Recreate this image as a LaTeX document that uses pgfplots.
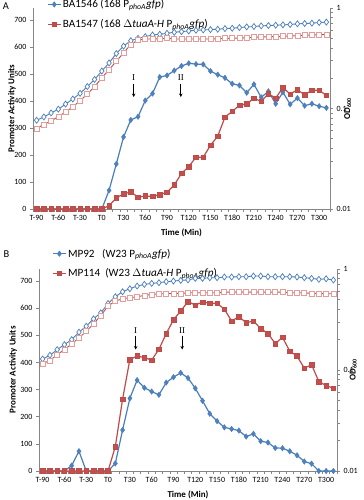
\documentclass[border=0pt]{standalone}
\usepackage{pgfplots}
\usepackage{pgfplotstable}
\pgfplotsset{compat=1.18}
\usetikzlibrary{arrows.meta}
\usepackage{fontspec}
\setmainfont{Carlito}
\newfontfamily\romanfont{Liberation Serif}

\definecolor{xblue}{HTML}{4A7EBB}
\definecolor{xbluef}{HTML}{4F81BD}
\definecolor{xred}{HTML}{BE4B48}
\definecolor{xredf}{HTML}{C0504D}
\definecolor{xpink}{HTML}{E29C9A}
\definecolor{axgray}{HTML}{868686}

\pgfplotstableread{
t b r ob or
-90 0 0 0.0763 0.0634
-80 0 0 0.0824 0.0695
-70 0 0 0.0904 0.0751
-60 0 0 0.0985 0.0831
-50 0 0 0.1106 0.0926
-40 0 0 0.1242 0.1039
-30 0 0 0.1416 0.1194
-20 0 0 0.1652 0.1394
-10 0 0 0.1944 0.1652
0 0 0 0.2358 0.2019
10 69 12 0.2838 0.2432
20 167 41 0.3523 0.2950
30 267 56 0.4176 0.3578
40 330 63 0.4726 0.4342
50 342 44 0.4989 0.4800
60 402 48 0.5186 0.4912
70 428 47 0.5389 0.4912
80 489 53 0.5475 0.4951
90 495 62 0.5600 0.4989
100 513 89 0.5733 0.4912
110 530 132 0.5823 0.4912
120 540 157 0.5913 0.4912
130 537 192 0.6005 0.4912
140 536 192 0.6050 0.4912
150 511 236 0.6098 0.4912
160 498 270 0.6146 0.4951
170 486 340 0.6241 0.4989
180 464 362 0.6289 0.4989
190 458 384 0.6387 0.5028
200 431 390 0.6486 0.5067
210 462 410 0.6537 0.5106
220 414 399 0.6639 0.5146
230 436 427 0.6690 0.5186
240 390 411 0.6743 0.5186
250 433 450 0.6795 0.5226
260 388 426 0.6848 0.5266
270 411 442 0.6954 0.5307
280 383 423 0.7008 0.5348
290 390 440 0.7063 0.5390
300 381 440 0.7172 0.5431
310 375 421 0.7229 0.5431
}\dataA

\pgfplotstableread{
t b r ob or
-90 0 0 0.1286 0.1156
-80 0 0 0.1399 0.1238
-70 0 0 0.1592 0.1420
-60 0 0 0.1785 0.1592
-50 20 0 0.2001 0.1814
-40 73 0 0.2368 0.2079
-30 0 0 0.2716 0.2422
-20 0 0 0.3211 0.2863
-10 0 0 0.3684 0.3465
0 0 0 0.4560 0.4290
10 28 90 0.5312 0.4809
20 151 265 0.5955 0.5074
30 268 411 0.6379 0.5191
40 335 424 0.6780 0.5312
50 307 418 0.7042 0.5477
60 293 409 0.7206 0.5603
70 281 449 0.7317 0.5689
80 326 506 0.7488 0.5689
90 346 558 0.7600 0.5732
100 362 590 0.7719 0.5732
110 343 625 0.7800 0.5818
120 305 612 0.8080 0.5818
130 259 623 0.8080 0.5818
140 211 619 0.8200 0.5818
150 184 618 0.8200 0.5818
160 161 597 0.8330 0.5907
170 155 553 0.8330 0.5907
180 149 569 0.8390 0.5907
190 127 547 0.8390 0.5907
200 137 553 0.8520 0.5907
210 110 525 0.8520 0.5907
220 105 507 0.8390 0.5907
230 85 470 0.8390 0.5907
240 84 493 0.8390 0.5907
250 73 442 0.8390 0.5818
260 58 424 0.8330 0.5818
270 35 379 0.8200 0.5818
280 27 392 0.8080 0.5732
290 0 330 0.7900 0.5732
300 0 315 0.8000 0.5689
310 0 305 0.7780 0.5689
}\dataB

\pgfplotsset{
  base/.style={
    scale only axis, anchor=south west, clip=false,
    xmin=-95, xmax=315,
    axis line style={axgray, line width=0.6bp},
    tick style={axgray, line width=0.6bp},
    tick align=outside, major tick length=3bp, minor tick length=3bp,
    ticklabel style={font=\fontsize{8}{9.6}\selectfont, text=black},
    /pgf/number format/assume math mode=true,
    label style={font=\fontsize{9}{10.8}\selectfont\bfseries},
  },
  leftax/.style={
    base, axis x line*=bottom, axis y line*=left,
    ymin=0, ymax=745, ytick={0,100,...,700},
    xtick={-90,-60,...,300},
    xticklabels={T-90,T-60,T-30,T0,T30,T60,T90,T120,T150,T180,T210,T240,T270,T300},
    minor xtick={-95,-85,...,315},
    major x tick style={draw=none},
    xlabel={Time (Min)},
    ylabel={Promoter Activity Units},
    legend cell align=left,
    legend style={draw=none, fill=none, font=\fontsize{11.2}{13}\selectfont,
      row sep=7bp, inner sep=0pt, nodes={inner sep=1.5bp}},
    legend image code/.code={\draw[##1, mark repeat=2, mark phase=2]
      plot coordinates {(0bp,0bp) (6.5bp,0bp) (13bp,0bp)};},
  },
  rightax/.style={
    base, axis y line*=right, axis x line=none,
    ymin=0.01, ymax=1, ytick={0.01,0.1,1},
    yticklabels={0.01,0.1,1}, minor ytick={},
    ylabel={OD\textsubscript{600}},
  },
  bluefill/.style={color=xblue, line width=1.2bp, mark=diamond*, mark size=2.7bp,
    mark options={fill=xbluef, draw=xblue, line width=0.5bp}},
  redfill/.style={color=xred, line width=1.2bp, mark=square*, mark size=2.3bp,
    mark options={fill=xredf, draw=xred, line width=0.5bp}},
  bluehollow/.style={color=xblue, line width=0.9bp, mark=diamond*, mark size=3bp,
    mark options={fill=white, draw=xblue, line width=0.7bp}},
  redhollow/.style={color=xred, line width=0.9bp, mark=square*, mark size=2.5bp,
    mark options={fill=white, draw=xpink, line width=0.7bp}},
}

\begin{document}
\begin{tikzpicture}
\useasboundingbox (0,0) rectangle (364bp,500bp);

% ---------- Panel A ----------
\begin{axis}[leftax, at={(33bp,291bp)}, width=297bp, height=201bp,
  xlabel style={at={(axis description cs:0.5,-0.119)}, anchor=center},
  ylabel style={at={(axis description cs:-0.071,0.5)}, anchor=center},
  legend style={at={(axis description cs:0.047,1.05)}, anchor=north west}]
\addplot[bluefill] table[x=t, y=b]{\dataA};
\addlegendentry{BA1546 (168 P\textsubscript{\textit{phoA}}\textit{gfp})}
\addplot[redfill] table[x=t, y=r]{\dataA};
\addlegendentry{BA1547 (168 \(\Delta\)\textit{tuaA-H} P\textsubscript{\textit{phoA}}\textit{gfp})}
\node[font=\romanfont\fontsize{9}{9}\selectfont] at (axis cs:44,487) {I};
\node[font=\romanfont\fontsize{9}{9}\selectfont] at (axis cs:109,487) {II};
\draw[-{Stealth[length=3.5bp,width=3.5bp]}, line width=0.7bp] (axis cs:44,465) -- (axis cs:44,415);
\draw[-{Stealth[length=3.5bp,width=3.5bp]}, line width=0.7bp] (axis cs:109,465) -- (axis cs:109,415);
\end{axis}
\begin{semilogyaxis}[rightax, at={(33bp,291bp)}, width=297bp, height=201bp,
  ylabel style={at={(axis description cs:1.06,0.5)}, anchor=center}]
\addplot[bluehollow] table[x=t, y=ob]{\dataA};
\addplot[redhollow] table[x=t, y=or]{\dataA};
\end{semilogyaxis}
\node[font=\fontsize{10.5}{12}\selectfont] at (6bp,494bp) {A};

% ---------- Panel B ----------
\begin{axis}[leftax, at={(39bp,29bp)}, width=298bp, height=202bp,
  xlabel style={at={(axis description cs:0.5,-0.119)}, anchor=center},
  ylabel style={at={(axis description cs:-0.087,0.5)}, anchor=center},
  legend style={at={(axis description cs:0.044,1.108)}, anchor=north west}]
\addplot[bluefill] table[x=t, y=b]{\dataB};
\addlegendentry{MP92 \ \ (W23 P\textsubscript{\textit{phoA}}\textit{gfp})}
\addplot[redfill] table[x=t, y=r]{\dataB};
\addlegendentry{MP114 \ (W23 \(\Delta\)\textit{tuaA-H} P\textsubscript{\textit{phoA}}\textit{gfp})}
\node[font=\romanfont\fontsize{9}{9}\selectfont] at (axis cs:38,519) {I};
\node[font=\romanfont\fontsize{9}{9}\selectfont] at (axis cs:102,519) {II};
\draw[-{Stealth[length=3.5bp,width=3.5bp]}, line width=0.7bp] (axis cs:38,499) -- (axis cs:38,448);
\draw[-{Stealth[length=3.5bp,width=3.5bp]}, line width=0.7bp] (axis cs:102,499) -- (axis cs:102,448);
\end{axis}
\begin{semilogyaxis}[rightax, at={(39bp,29bp)}, width=298bp, height=202bp,
  ylabel style={at={(axis description cs:1.054,0.5)}, anchor=center}]
\addplot[bluehollow] table[x=t, y=ob]{\dataB};
\addplot[redhollow] table[x=t, y=or]{\dataB};
\end{semilogyaxis}
\node[font=\fontsize{10.5}{12}\selectfont] at (6.5bp,245.5bp) {B};
\end{tikzpicture}
\end{document}
